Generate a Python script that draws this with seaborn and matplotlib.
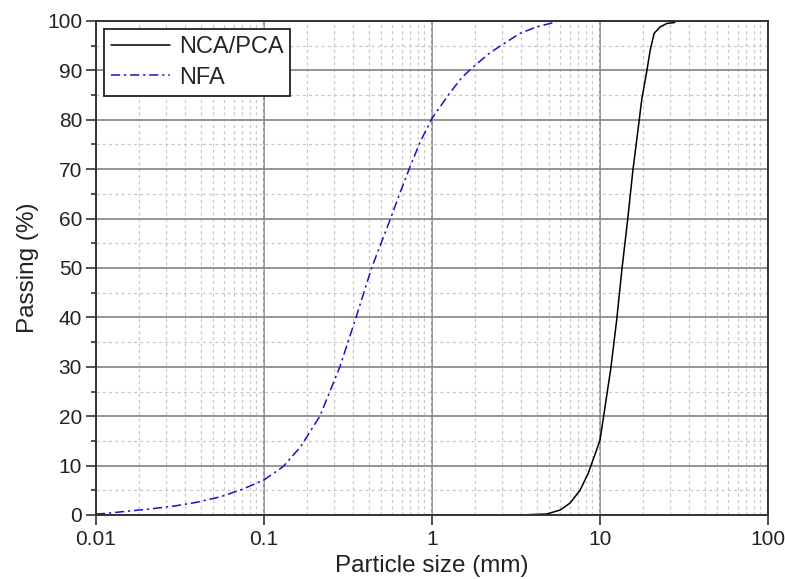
import numpy as np
import pandas as pd
import matplotlib
matplotlib.use("Agg")
import matplotlib.pyplot as plt
import seaborn as sns
from matplotlib.ticker import FixedLocator, NullFormatter

# --- Grading curves ---
nfa_size = [0.01, 0.0112, 0.0147, 0.0207, 0.0291, 0.0401, 0.0552, 0.0743, 0.1, 0.13,
            0.165, 0.215, 0.283, 0.353, 0.437, 0.562, 0.65, 0.74, 0.85, 1.0, 1.25, 1.5,
            1.76, 2.2, 2.79, 3.34, 4.2, 5.04, 5.6, 100.0]
nfa_pass = [0.2, 0.3, 0.7, 1.2, 1.8, 2.6, 3.7, 5.2, 7.1, 9.8,
            13.8, 20.0, 30.0, 40.0, 50.0, 59.7, 65.5, 70.5, 75.5, 80.3, 85.0, 88.5,
            90.7, 93.5, 95.8, 97.5, 98.8, 99.5, 100.0, 100.0]

nca_size = [3.27, 4.82, 5.78, 6.63, 7.6, 8.5, 9.55, 10.0, 10.5, 11.6, 12.6,
            13.5, 14.6, 15.7, 17.1, 17.7, 19.0, 19.9, 21.0, 22.8, 25.0, 27.9]
nca_pass = [0.0, 0.2, 1.0, 2.4, 5.0, 8.4, 13.2, 15.2, 19.9, 29.7, 39.8,
            49.7, 59.7, 69.8, 79.8, 84.0, 89.9, 94.1, 97.5, 98.8, 99.5, 99.7]

df = pd.concat([
    pd.DataFrame({"size": nca_size, "passing": nca_pass, "mix": "NCA/PCA"}),
    pd.DataFrame({"size": nfa_size, "passing": nfa_pass, "mix": "NFA"}),
])

sns.set_style("white")
plt.rcParams["font.family"] = ["Liberation Sans", "DejaVu Sans"]

fig = plt.figure(figsize=(7.85, 5.79), dpi=100)
ax = fig.add_axes([96 / 785, 1 - 515 / 579, 672 / 785, 494 / 579])

ax.set_xscale("log")
ax.set_xlim(0.01, 100)
ax.set_ylim(0, 100)

# minor grid the way the original software spaced it (linear steps inside each decade)
decades = [0.01, 0.1, 1, 10]
minor_x = [d * m for d in decades for m in np.arange(1.8, 9.9, 0.8)]
ax.xaxis.set_major_locator(FixedLocator([0.01, 0.1, 1, 10, 100]))
ax.xaxis.set_minor_locator(FixedLocator(minor_x))
ax.xaxis.set_minor_formatter(NullFormatter())
ax.yaxis.set_major_locator(FixedLocator(np.arange(0, 101, 10)))
ax.yaxis.set_minor_locator(FixedLocator(np.arange(5, 100, 10)))
ax.grid(which="major", color="#8c8c8c", linewidth=1.3, linestyle="-")
ax.grid(which="minor", color="#c8c8c8", linewidth=0.9, linestyle=(0, (2.5, 2.5)))
ax.set_axisbelow(True)

sns.lineplot(data=df, x="size", y="passing", hue="mix", style="mix",
             palette={"NCA/PCA": "black", "NFA": "#1414c8"},
             dashes={"NCA/PCA": "", "NFA": (6, 2.5, 1.5, 2.5)},
             linewidth=1.1, ax=ax, sort=False, estimator=None)

ax.set_xticklabels(["0.01", "0.1", "1", "10", "100"])
ax.tick_params(which="major", direction="out", length=7, width=1.1, colors="#222222",
               labelsize=15, labelcolor="#222222", bottom=True, left=True)
ax.tick_params(axis="x", which="minor", length=0, bottom=False)
ax.tick_params(axis="y", which="minor", direction="out", length=3.5, width=1.1,
               colors="#222222", left=True)
ax.tick_params(axis="x", pad=4)
ax.tick_params(axis="y", pad=3)

for s in ax.spines.values():
    s.set_color("#333333")
    s.set_linewidth(1.4)

ax.set_xlabel("Particle size (mm)", fontsize=17.5, color="#222222", labelpad=4)
ax.set_ylabel("Passing (%)", fontsize=17.5, color="#222222", labelpad=6)

leg = ax.legend(loc="upper left", fontsize=17, frameon=True, fancybox=False,
                borderaxespad=0.35, handlelength=2.5, handletextpad=0.35,
                borderpad=0.3, labelspacing=0.35, title=None)
leg.get_frame().set_edgecolor("#222222")
leg.get_frame().set_linewidth(1.3)
leg.get_frame().set_alpha(1)

fig.savefig("out.png", dpi=100)
